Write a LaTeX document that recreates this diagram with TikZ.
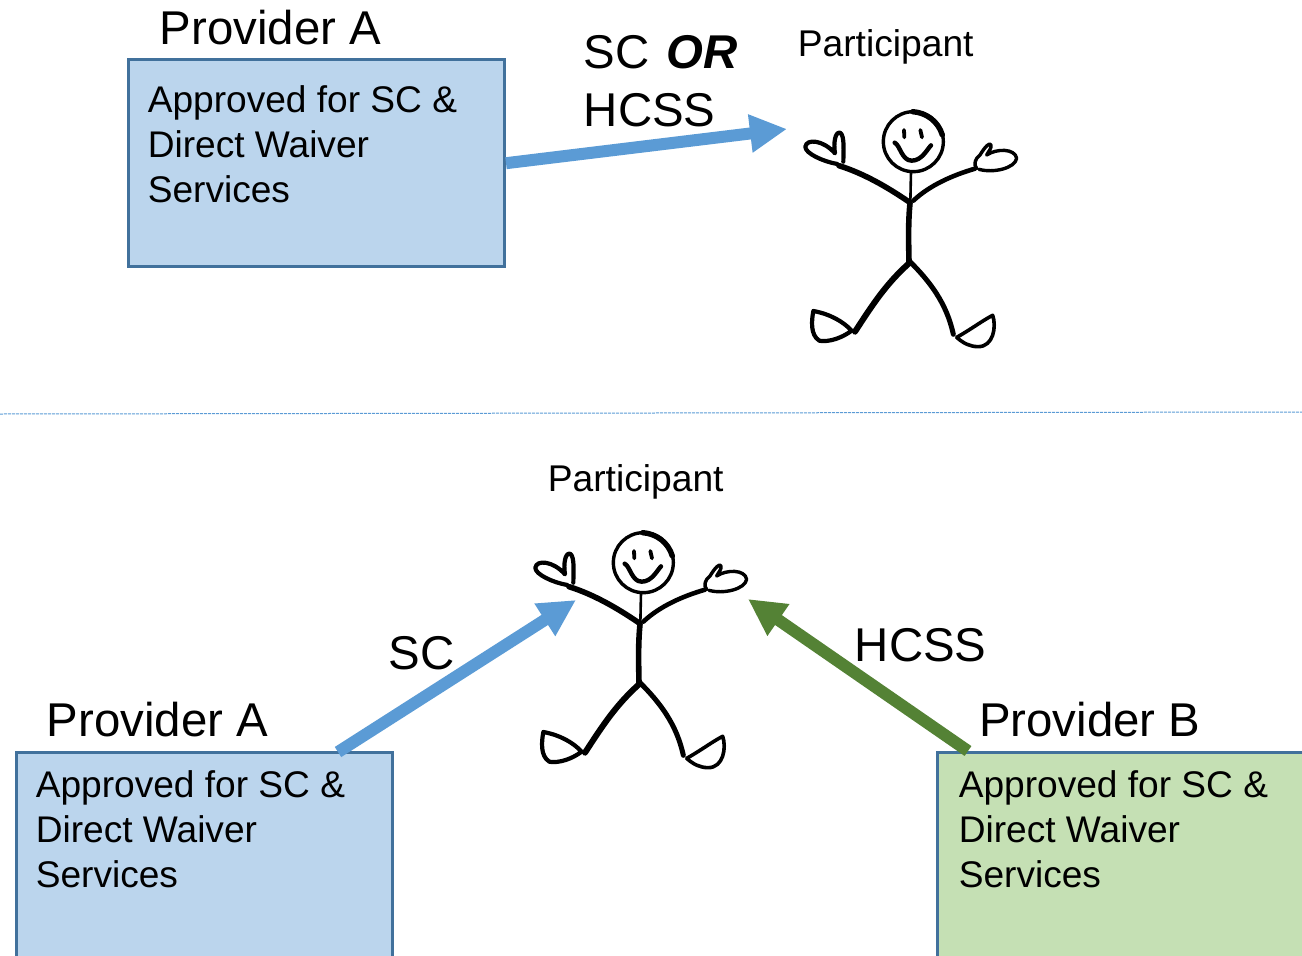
\documentclass[tikz,border=0pt]{standalone}
\usepackage{fontspec}
\setmainfont{Liberation Sans}
\usetikzlibrary{arrows.meta}
\definecolor{bluefill}{HTML}{BBD5ED}
\definecolor{greenfill}{HTML}{C5E0B4}
\definecolor{edgeblue}{HTML}{41719C}
\definecolor{arrowblue}{HTML}{5B9BD5}
\definecolor{arrowgreen}{HTML}{548235}
\tikzset{
  provbox/.style={draw=edgeblue,line width=2.6pt,anchor=north west,inner sep=0pt,minimum width=376pt,minimum height=207pt},
  boxtext/.style={anchor=north west,inner sep=0pt,align=left,font=\fontsize{37.1}{45}\selectfont},
  bigtext/.style={anchor=base west,inner sep=0pt,font=\fontsize{47.4}{50}\selectfont},
  parttext/.style={anchor=base west,inner sep=0pt,font=\fontsize{37.2}{40}\selectfont},
  fatarrow/.style={line width=12pt,-{Triangle[length=37pt,width=36pt]}},
  ink/.style={draw=black,line cap=round,line join=round},
}
\newcommand{\stickfigure}[1]{%
\begin{scope}[shift={#1},x=0.33333pt,y=-0.33333pt]
  \draw[ink,line width=3.4pt] (400,155) circle[radius=90];
  \draw[ink,line width=5.4pt] (398,65) .. controls (440,68) and (475,95) .. (487,135);
  \draw[ink,line width=3.8pt] (372,120) -- (373,142);
  \draw[ink,line width=3.8pt] (421,120) -- (426,142);
  \draw[ink,line width=4.4pt] (344,158) .. controls (360,165) and (365,212) .. (395,212) .. controls (425,212) and (440,180) .. (453,166);
  \draw[ink,line width=2.6pt] (393,246) -- (391,338);
  \draw[ink,line width=5.6pt] (177,227) .. controls (250,250) and (320,290) .. (386,335);
  \draw[ink,line width=4.6pt] (585,236) .. controls (520,255) and (450,285) .. (400,332);
  \draw[ink,line width=5.6pt] (390,340) .. controls (384,400) and (386,460) .. (387,515);
  \draw[ink,line width=6pt] (387,520) .. controls (320,580) and (280,640) .. (225,725);
  \draw[ink,line width=5pt] (390,515) .. controls (450,575) and (500,640) .. (520,733);
  \draw[ink,line width=4.2pt] (172,222) .. controls (130,215) and (75,190) .. (76,170) .. controls (80,145) and (130,150) .. (165,190) .. controls (160,160) and (165,125) .. (180,128) .. controls (195,135) and (190,190) .. (190,215);
  \draw[ink,line width=3.4pt] (590,235) .. controls (580,225) and (585,205) .. (600,195) .. controls (615,170) and (630,155) .. (633,165) .. controls (635,175) and (625,185) .. (620,195) .. controls (650,175) and (705,175) .. (710,205) .. controls (705,235) and (640,250) .. (597,238);
  \draw[ink,line width=4.2pt] (100,663) .. controls (150,672) and (190,695) .. (215,722) .. controls (170,755) and (130,755) .. (118,752) .. controls (90,735) and (95,690) .. (100,663);
  \draw[ink,line width=3.6pt] (530,742) .. controls (570,720) and (610,690) .. (638,676) .. controls (650,710) and (640,770) .. (595,770) .. controls (570,770) and (550,760) .. (530,742);
\end{scope}}
\begin{document}
\begin{tikzpicture}[x=1pt,y=-1pt]
\useasboundingbox (0,0) rectangle (1302,956);
\begin{scope}
\clip (0,0) rectangle (1302,956);
\node[provbox,fill=bluefill] (boxa) at (127.4,58.4) {};
\node[provbox,fill=bluefill,minimum height=230pt] (boxc) at (15.4,751) {};
\node[provbox,fill=greenfill,minimum width=420pt,minimum height=230pt] (boxd) at (936,751) {};
\end{scope}
\node[boxtext] (texta) at (147.6,85) {Approved for SC \&\\Direct Waiver\\Services};
\node[boxtext] (textc) at (35.6,770) {Approved for SC \&\\Direct Waiver\\Services};
\node[boxtext] (textd) at (958.6,770) {Approved for SC \&\\Direct Waiver\\Services};
\node[bigtext] (pa) at (159.6,44) {Provider A};
\node[bigtext] (pc) at (46.6,736) {Provider A};
\node[bigtext] (pd) at (979,736) {Provider B};
\node[parttext] (part1) at (797.6,56) {Participant};
\node[parttext] (part2) at (547.6,491) {Participant};
\node[bigtext] (scor) at (583.6,68) {SC\hspace{0.36em}\textbf{\textit{OR}}};
\node[bigtext] (hcss1) at (583.6,126) {HCSS};
\node[bigtext] (sc2) at (388.6,669) {SC};
\node[bigtext] (hcss2) at (854.6,661) {HCSS};
\stickfigure{(780,90)}
\stickfigure{(510,511)}
\coordinate (tip1) at (787,129);
\coordinate (tip2) at (576,600);
\coordinate (tip3) at (748,599);
\coordinate (startc) at (338,752);
\coordinate (startd) at (968,751);
\coordinate (divl) at (0,414);
\coordinate (divr) at (1302,412);
\draw[fatarrow,arrowblue] (boxa.east) -- (tip1);
\draw[fatarrow,arrowblue] (startc) -- (tip2);
\draw[fatarrow,arrowgreen] (startd) -- (tip3);
\draw[arrowblue,line width=1pt,dash pattern=on 3pt off 1pt] (divl) -- (divr);
\end{tikzpicture}
\end{document}
